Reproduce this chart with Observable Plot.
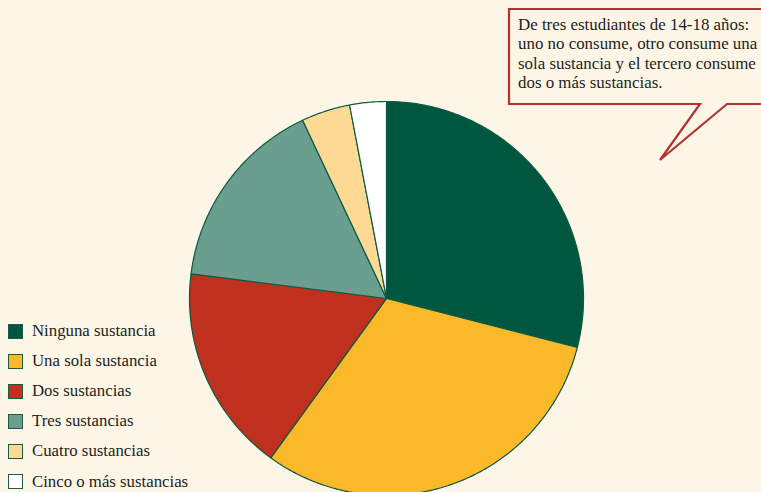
<!DOCTYPE html>
<html>
<head>
<meta charset="utf-8">
<script src="https://cdn.jsdelivr.net/npm/d3@7"></script>
<script src="https://cdn.jsdelivr.net/npm/@observablehq/plot@0.6"></script>
<style>
  html, body { margin: 0; padding: 0; background: #FDF6E7; }
  #wrap { position: relative; width: 761px; height: 492px; overflow: hidden; background: #FDF6E7; font-family: "Liberation Serif", "DejaVu Serif", serif; }
  #chart { position: absolute; left: 0; top: 0; }
  #legend { position: absolute; left: 8px; top: 316px; }
  .item { display: flex; align-items: center; height: 30.1px; font-size: 16.8px; color: #231f20; }
  .sw { width: 13px; height: 13px; border: 1px solid #1d5a43; margin-right: 9px; box-sizing: content-box; flex: none; }
  #callout { position: absolute; left: 0; top: 0; }
  #callout-text { position: absolute; left: 518px; top: 15px; width: 280px; font-size: 16.9px; line-height: 19.3px; color: #231f20; white-space: nowrap; }
</style>
</head>
<body>
<div id="wrap">
  <div id="chart"></div>
  <svg id="callout" width="761" height="492">
    <path d="M509,9 H775 V104 H727 L660,160 L700,104 H509 Z" fill="#FDF6E7" stroke="#B23330" stroke-width="2.2" stroke-linejoin="miter"/>
  </svg>
  <div id="callout-text"></div>
  <div id="legend"></div>
</div>
<script>
const categories = ["Ninguna sustancia", "Una sola sustancia", "Dos sustancias", "Tres sustancias", "Cuatro sustancias", "Cinco o más sustancias"];
const values = [29, 31, 17, 16, 4, 3];
const colors = ["#00573F", "#FBB829", "#C0301E", "#6A9E8E", "#FDD994", "#FFFFFF"];
const calloutLines = ["De tres estudiantes de 14-18 años:", "uno no consume, otro consume una", "sola sustancia y el tercero consume", "dos o más sustancias."];

const data = categories.map((c, i) => ({cat: c, v: values[i]}));
const arcs = d3.pie().sort(null).value(d => d.v).startAngle(0).endAngle(2 * Math.PI)(data);
const pts = [];
for (const a of arcs) {
  pts.push({cat: a.data.cat, x: 0, y: 0});
  const n = Math.max(2, Math.ceil((a.endAngle - a.startAngle) / (Math.PI / 360)));
  for (let k = 0; k <= n; k++) {
    const t = a.startAngle + (a.endAngle - a.startAngle) * k / n;
    pts.push({cat: a.data.cat, x: Math.sin(t), y: Math.cos(t)});
  }
}

const plot = Plot.plot({
  width: 761,
  height: 492,
  marginLeft: 189,
  marginRight: 178,
  marginTop: 101,
  marginBottom: 0,
  style: {background: "transparent", overflow: "visible"},
  x: {domain: [-1, 1], axis: null},
  y: {domain: [-0.985, 1], axis: null},
  color: {domain: categories, range: colors},
  marks: [
    Plot.line(pts, {x: "x", y: "y", z: "cat", fill: "cat", stroke: "#0b5a44", strokeWidth: 1.2, curve: "linear-closed", strokeLinejoin: "round"})
  ]
});
document.getElementById("chart").appendChild(plot);

document.getElementById("callout-text").innerHTML = calloutLines.map(l => `<div>${l}</div>`).join("");
const leg = document.getElementById("legend");
categories.forEach((c, i) => {
  const d = document.createElement("div");
  d.className = "item";
  d.innerHTML = `<span class="sw" style="background:${colors[i]}"></span><span>${c}</span>`;
  leg.appendChild(d);
});
</script>
</body>
</html>
